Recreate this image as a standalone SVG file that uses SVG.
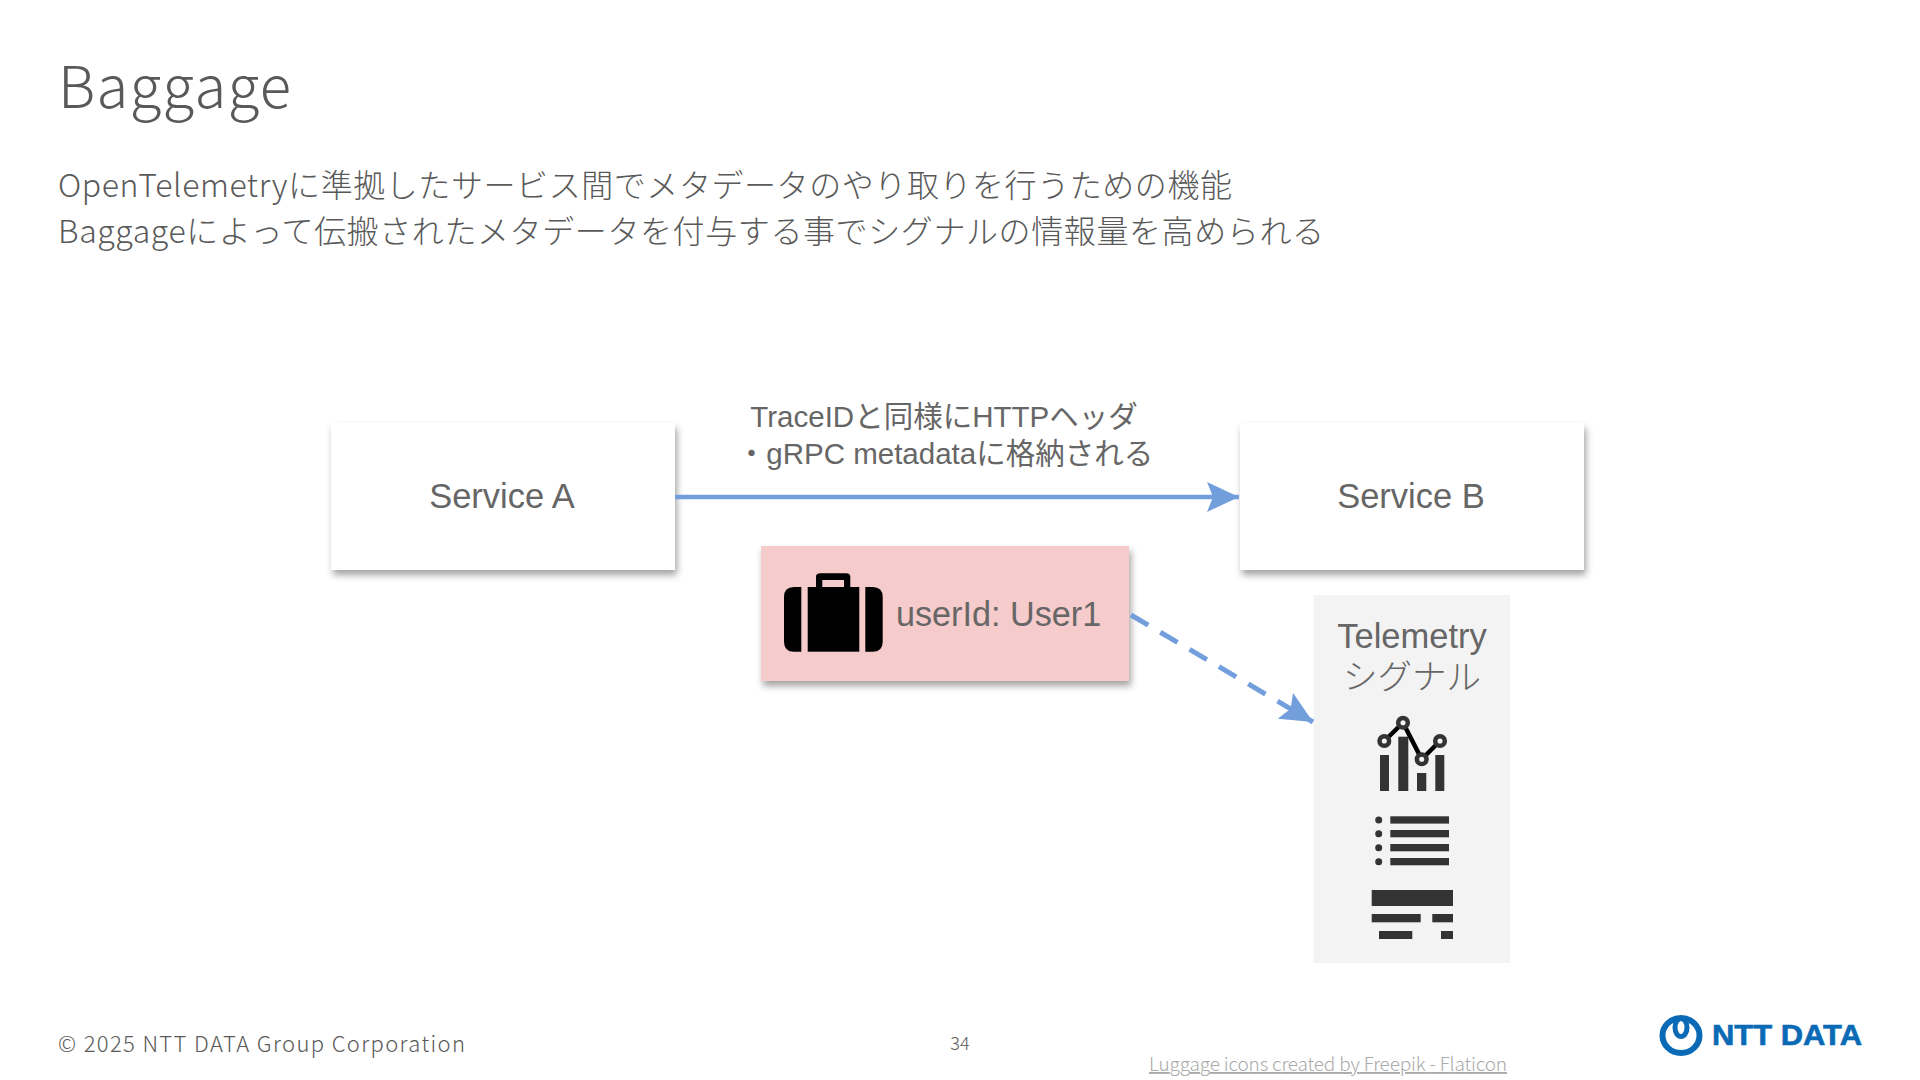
<svg xmlns="http://www.w3.org/2000/svg" width="1920" height="1080" viewBox="0 0 1920 1080">
<style>
.jp{font-family:"Noto Sans CJK JP","Liberation Sans",sans-serif;font-weight:300;fill:#595959}
.ar{font-family:"Liberation Sans","Noto Sans CJK JP",sans-serif;fill:#666666}
.m{text-anchor:middle}
.ic{fill:#333333}
.conn{stroke:#729fdc;fill:none}
</style>
<defs>
<filter id="sh" x="-10%" y="-10%" width="120%" height="130%"><feDropShadow dx="2" dy="5" stdDeviation="3.500" flood-color="#000" flood-opacity="0.36"/></filter>
<marker id="ah" markerUnits="userSpaceOnUse" markerWidth="34" markerHeight="30" refX="32" refY="15" orient="auto"><path d="M0 0L32 15L0 30L6 15Z" fill="#729fdc"/></marker>
</defs>
<rect width="1920" height="1080" fill="#ffffff"/>
<text id="title" class="jp" x="58" y="108" font-size="58" textLength="233">Baggage</text>
<g id="subtitle" class="jp" font-size="32">
<text x="58" y="197" textLength="1174">OpenTelemetryに準拠したサービス間でメタデータのやり取りを行うための機能</text>
<text x="58" y="243" textLength="1266">Baggageによって伝搬されたメタデータを付与する事でシグナルの情報量を高められる</text>
</g>
<g id="service-a"><rect x="331" y="423" width="344" height="147" fill="#fff" filter="url(#sh)"/><text class="ar m" x="502" y="508" font-size="34.500">Service A</text></g>
<g id="service-b"><rect x="1240" y="423" width="344" height="147" fill="#fff" filter="url(#sh)"/><text class="ar m" x="1411" y="508" font-size="34.500">Service B</text></g>
<g id="edge-label" class="ar" font-size="29.500">
<text class="m" x="944" y="427">TraceIDと同様にHTTPヘッダ</text>
<text class="m" x="945" y="464">・gRPC metadataに格納される</text>
</g>
<g id="baggage">
<rect x="761" y="546" width="368" height="135" fill="#f6cbcb" filter="url(#sh)"/>
<g id="suitcase" fill="#000">
<path d="M801.300 587H794Q784 587 784 597V641.700Q784 651.700 794 651.700H801.300Z"/>
<rect x="807.700" y="587" width="51.600" height="64.700"/>
<path d="M865.300 587H872.700Q882.700 587 882.700 597V641.700Q882.700 651.700 872.700 651.700H865.300Z"/>
<path fill-rule="evenodd" d="M816 587V577Q816 573.300 820 573.300H846.300Q850.300 573.300 850.300 577V587H844V580H822.300V587Z"/>
</g>
<text class="ar" x="896" y="626" font-size="34.200">userId: User1</text>
</g>
<g id="telemetry">
<rect x="1313.500" y="595" width="196.500" height="368" fill="#f3f3f3"/>
<text class="ar m" x="1412" y="648" font-size="34.500">Telemetry</text>
<text class="ar m" x="1412" y="689" font-size="34.500" font-weight="300">シグナル</text>
<g id="metrics-icon">
<g class="ic"><rect x="1380" y="755" width="9" height="36"/><rect x="1398.300" y="736.700" width="10" height="54.300"/><rect x="1417" y="773" width="9.300" height="18"/><rect x="1435.300" y="755" width="9" height="36"/></g>
<path d="M1384.300 741L1403 722.700L1421.700 759.300L1440 741" fill="none" stroke="#000" stroke-width="4.500"/>
<g fill="#f3f3f3" stroke="#333333" stroke-width="4.500"><circle cx="1384.300" cy="741" r="4.800"/><circle cx="1403" cy="722.700" r="4.800"/><circle cx="1421.700" cy="759.300" r="4.800"/><circle cx="1440" cy="741" r="4.800"/></g>
</g>
<g id="logs-icon" class="ic">
<circle cx="1378.700" cy="820" r="3.500"/><circle cx="1378.700" cy="833.700" r="3.500"/><circle cx="1378.700" cy="847.700" r="3.500"/><circle cx="1378.700" cy="861.700" r="3.500"/>
<rect x="1390.300" y="816.300" width="58.700" height="7.300"/><rect x="1390.300" y="830" width="58.700" height="7.300"/><rect x="1390.300" y="844" width="58.700" height="7.300"/><rect x="1390.300" y="858" width="58.700" height="7.300"/>
</g>
<g id="traces-icon" class="ic">
<rect x="1371.700" y="890" width="81.300" height="16"/><rect x="1371.700" y="914" width="49" height="8.300"/><rect x="1432.300" y="914" width="20.700" height="8.300"/><rect x="1379" y="931" width="33.300" height="8"/><rect x="1441" y="931" width="12" height="8"/>
</g>
</g>
<g id="connectors">
<path class="conn" d="M675 497H1239" stroke-width="4.500" marker-end="url(#ah)"/>
<path class="conn" d="M1131 615L1313 722" stroke-width="5" stroke-dasharray="20 14" marker-end="url(#ah)"/>
</g>
<g id="footer">
<text class="jp" x="58" y="1052" font-size="22" textLength="407">© 2025 NTT DATA Group Corporation</text>
<text class="jp m" x="960" y="1050" font-size="18">34</text>
<text class="jp" x="1149" y="1071" font-size="19" textLength="358" text-decoration="underline" style="fill:#aaaaaa">Luggage icons created by Freepik - Flaticon</text>
</g>
<g id="logo">
<ellipse cx="1681" cy="1035.500" rx="18.500" ry="17.500" fill="none" stroke="#0a6ab5" stroke-width="6"/>
<ellipse cx="1681" cy="1027.500" rx="6" ry="9" fill="none" stroke="#0a6ab5" stroke-width="5"/>
<text x="1712" y="1045" font-family="'Liberation Sans',sans-serif" font-weight="700" font-size="29" fill="#0a6ab5" stroke="#0a6ab5" stroke-width="0.600" textLength="150" lengthAdjust="spacingAndGlyphs">NTT DATA</text>
</g>
</svg>
